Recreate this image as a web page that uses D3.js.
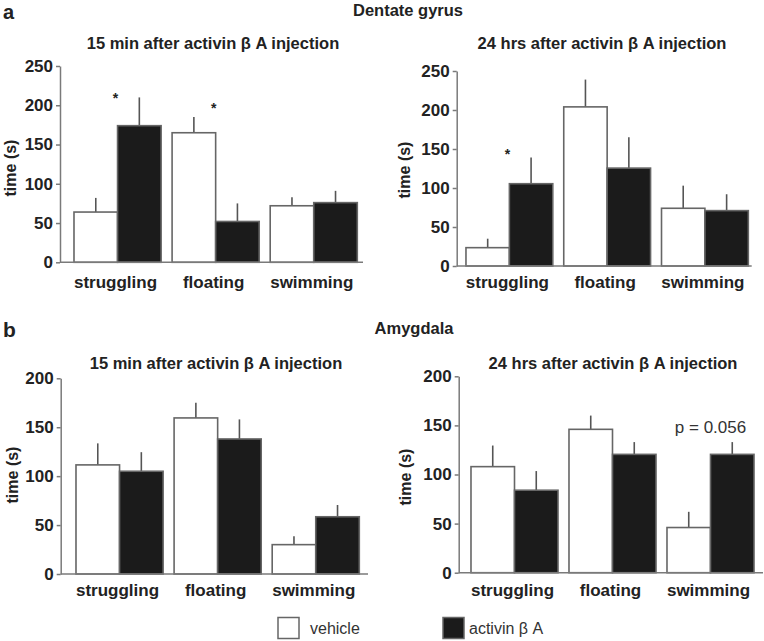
<!DOCTYPE html>
<html>
<head>
<meta charset="utf-8">
<script src="https://cdn.jsdelivr.net/npm/d3@7"></script>
<style>
  html, body { margin: 0; padding: 0; background: #fff; }
  svg { display: block; }
  text { font-family: "Liberation Sans", Arial, Helvetica, sans-serif; }
</style>
</head>
<body>
<svg id="chart" width="764" height="641"></svg>
<script>
// ---------- data ----------
const categories = ["struggling", "floating", "swimming"];
const seriesNames = ["vehicle", "activin β A"];

// Dentate gyrus, 15 min
const dg15Vehicle = [64, 165, 72];
const dg15VehicleErr = [82, 185, 83];
const dg15Activin = [174, 52, 76];
const dg15ActivinErr = [210, 75, 91];

// Dentate gyrus, 24 hrs
const dg24Vehicle = [23.5, 204, 74];
const dg24VehicleErr = [35, 239, 103];
const dg24Activin = [105.5, 125.5, 71];
const dg24ActivinErr = [139, 165, 92];

// Amygdala, 15 min
const am15Vehicle = [111.5, 159.5, 30];
const am15VehicleErr = [133.5, 175, 38.5];
const am15Activin = [105, 138, 58.5];
const am15ActivinErr = [124.5, 158, 70.5];

// Amygdala, 24 hrs
const am24Vehicle = [108, 146, 46];
const am24VehicleErr = [129.5, 160, 62];
const am24Activin = [84, 120.5, 120.5];
const am24ActivinErr = [103.5, 133, 133];

const ticksTop = [0, 50, 100, 150, 200, 250];
const ticksBottom = [0, 50, 100, 150, 200];

const panelTitle15 = "15 min after activin β A injection";
const panelTitle24 = "24 hrs after activin β A injection";

// significance marks: [category, value level]
const dg15Stars = [["struggling", 215], ["floating", 203]];
const dg24Stars = [["struggling", 150]];
const am24Notes = [["swimming", 148, "p = 0.056"]];

// ---------- layout ----------
const svg = d3.select("#chart");
const textColor = "#222";
const axisColor = "#7a7a7a";
const barStroke = "#666";
const darkFill = "#1b1b1b";

const panels = [
  { title: panelTitle15, titleX: 213, titleY: 43,
    axisX: 60, yTop: 66, yBot: 262.3, barL: 74, barR: 357.3, axisEnd: 363,
    ymax: 250, ticks: ticksTop, labX: 10, labY: 168, catY: 282,
    veh: dg15Vehicle, vehE: dg15VehicleErr, act: dg15Activin, actE: dg15ActivinErr,
    stars: dg15Stars, notes: [] },
  { title: panelTitle24, titleX: 602, titleY: 43,
    axisX: 456.7, yTop: 71, yBot: 266, barL: 466, barR: 748.3, axisEnd: 751.7,
    ymax: 250, ticks: ticksTop, labX: 404, labY: 170, catY: 282,
    veh: dg24Vehicle, vehE: dg24VehicleErr, act: dg24Activin, actE: dg24ActivinErr,
    stars: dg24Stars, notes: [] },
  { title: panelTitle15, titleX: 216, titleY: 363,
    axisX: 60.7, yTop: 378.3, yBot: 574, barL: 76, barR: 359.3, axisEnd: 368,
    ymax: 200, ticks: ticksBottom, labX: 12, labY: 475, catY: 590,
    veh: am15Vehicle, vehE: am15VehicleErr, act: am15Activin, actE: am15ActivinErr,
    stars: [], notes: [] },
  { title: panelTitle24, titleX: 613, titleY: 363,
    axisX: 458.7, yTop: 376.3, yBot: 572.7, barL: 471, barR: 754, axisEnd: 763,
    ymax: 200, ticks: ticksBottom, labX: 405, labY: 477, catY: 590,
    veh: am24Vehicle, vehE: am24VehicleErr, act: am24Activin, actE: am24ActivinErr,
    stars: [], notes: am24Notes }
];

// section labels
svg.append("text").attr("x", 3).attr("y", 18.5).attr("font-size", 20).attr("font-weight", "bold")
  .attr("fill", textColor).text("a");
svg.append("text").attr("x", 3).attr("y", 337).attr("font-size", 21).attr("font-weight", "bold")
  .attr("fill", textColor).text("b");
svg.append("text").attr("x", 408).attr("y", 10).attr("dy", "0.35em").attr("text-anchor", "middle")
  .attr("font-size", 16.5).attr("font-weight", "bold").attr("fill", textColor).text("Dentate gyrus");
svg.append("text").attr("x", 414).attr("y", 328).attr("dy", "0.35em").attr("text-anchor", "middle")
  .attr("font-size", 16.5).attr("font-weight", "bold").attr("fill", textColor).text("Amygdala");

panels.forEach(p => {
  const g = svg.append("g");
  const gap = 11;
  const x = d3.scaleBand().domain(categories)
    .range([p.barL - gap / 2, p.barR + gap / 2])
    .paddingInner(0.112).paddingOuter(0.056);
  const xs = d3.scaleBand().domain(seriesNames).range([0, x.bandwidth()]);
  const y = d3.scaleLinear().domain([0, p.ymax]).range([p.yBot, p.yTop]);

  // title
  g.append("text").attr("x", p.titleX).attr("y", p.titleY).attr("dy", "0.35em")
    .attr("text-anchor", "middle").attr("font-size", 16.5).attr("font-weight", "bold")
    .attr("fill", textColor).text(p.title);

  // y axis
  const ya = g.append("g").attr("transform", `translate(${p.axisX},0)`)
    .call(d3.axisLeft(y).tickValues(p.ticks).tickSize(4).tickSizeOuter(0).tickPadding(3));
  ya.select(".domain").attr("stroke", axisColor).attr("stroke-width", 1.5);
  ya.selectAll(".tick line").attr("stroke", axisColor).attr("stroke-width", 1.5);
  ya.selectAll(".tick text").attr("font-size", 17).attr("font-weight", "bold")
    .attr("fill", textColor).attr("font-family", "Liberation Sans, Arial, sans-serif");

  // y label
  g.append("text").attr("transform", `translate(${p.labX},${p.labY}) rotate(-90)`)
    .attr("text-anchor", "middle").attr("dy", "0.35em").attr("font-size", 16).attr("font-weight", "bold")
    .attr("fill", textColor).text("time (s)");

  // bars
  const rows = categories.map((c, i) => [
    { cat: c, s: seriesNames[0], v: p.veh[i], e: p.vehE[i] },
    { cat: c, s: seriesNames[1], v: p.act[i], e: p.actE[i] }
  ]).flat();

  g.selectAll(".err").data(rows).join("line")
    .attr("x1", d => x(d.cat) + xs(d.s) + xs.bandwidth() / 2)
    .attr("x2", d => x(d.cat) + xs(d.s) + xs.bandwidth() / 2)
    .attr("y1", d => y(d.v)).attr("y2", d => y(d.e))
    .attr("stroke", "#555").attr("stroke-width", 1.6);

  g.selectAll(".bar").data(rows).join("rect")
    .attr("x", d => x(d.cat) + xs(d.s))
    .attr("width", xs.bandwidth())
    .attr("y", d => y(d.v))
    .attr("height", d => y(0) - y(d.v))
    .attr("fill", d => d.s === seriesNames[0] ? "#fff" : darkFill)
    .attr("stroke", barStroke).attr("stroke-width", 1.6);

  // x baseline
  g.append("line").attr("x1", p.axisX).attr("x2", p.axisEnd)
    .attr("y1", y(0)).attr("y2", y(0))
    .attr("stroke", axisColor).attr("stroke-width", 1.5);

  // category labels
  g.selectAll(".cat").data(categories).join("text")
    .attr("x", d => x(d) + x.bandwidth() / 2 - 2).attr("y", p.catY).attr("dy", "0.35em")
    .attr("text-anchor", "middle").attr("font-size", 17).attr("font-weight", "bold")
    .attr("fill", textColor).text(d => d);

  // stars
  g.selectAll(".star").data(p.stars).join("text")
    .attr("x", d => x(d[0]) + x.bandwidth() / 2 - 2).attr("y", d => y(d[1]))
    .attr("dy", "0.7em").attr("text-anchor", "middle").attr("font-size", 14).attr("font-weight", "bold")
    .attr("fill", textColor).text("*");

  // notes
  g.selectAll(".note").data(p.notes).join("text")
    .attr("x", d => x(d[0]) + x.bandwidth() / 2).attr("y", d => y(d[1]))
    .attr("dy", "0.35em").attr("text-anchor", "middle").attr("font-size", 17)
    .attr("fill", "#333").text(d => d[2]);
});

// legend
const legendItems = [
  { name: seriesNames[0], fill: "#fff", bx: 278, tx: 310 },
  { name: seriesNames[1], fill: darkFill, bx: 443, tx: 469 }
];
const lg = svg.append("g");
lg.selectAll("rect").data(legendItems).join("rect")
  .attr("x", d => d.bx).attr("y", 617.5).attr("width", 21).attr("height", 21)
  .attr("fill", d => d.fill).attr("stroke", barStroke).attr("stroke-width", 1.5);
lg.selectAll("text").data(legendItems).join("text")
  .attr("x", d => d.tx).attr("y", 628).attr("dy", "0.35em")
  .attr("font-size", 16).attr("fill", "#333").text(d => d.name);
</script>
</body>
</html>
